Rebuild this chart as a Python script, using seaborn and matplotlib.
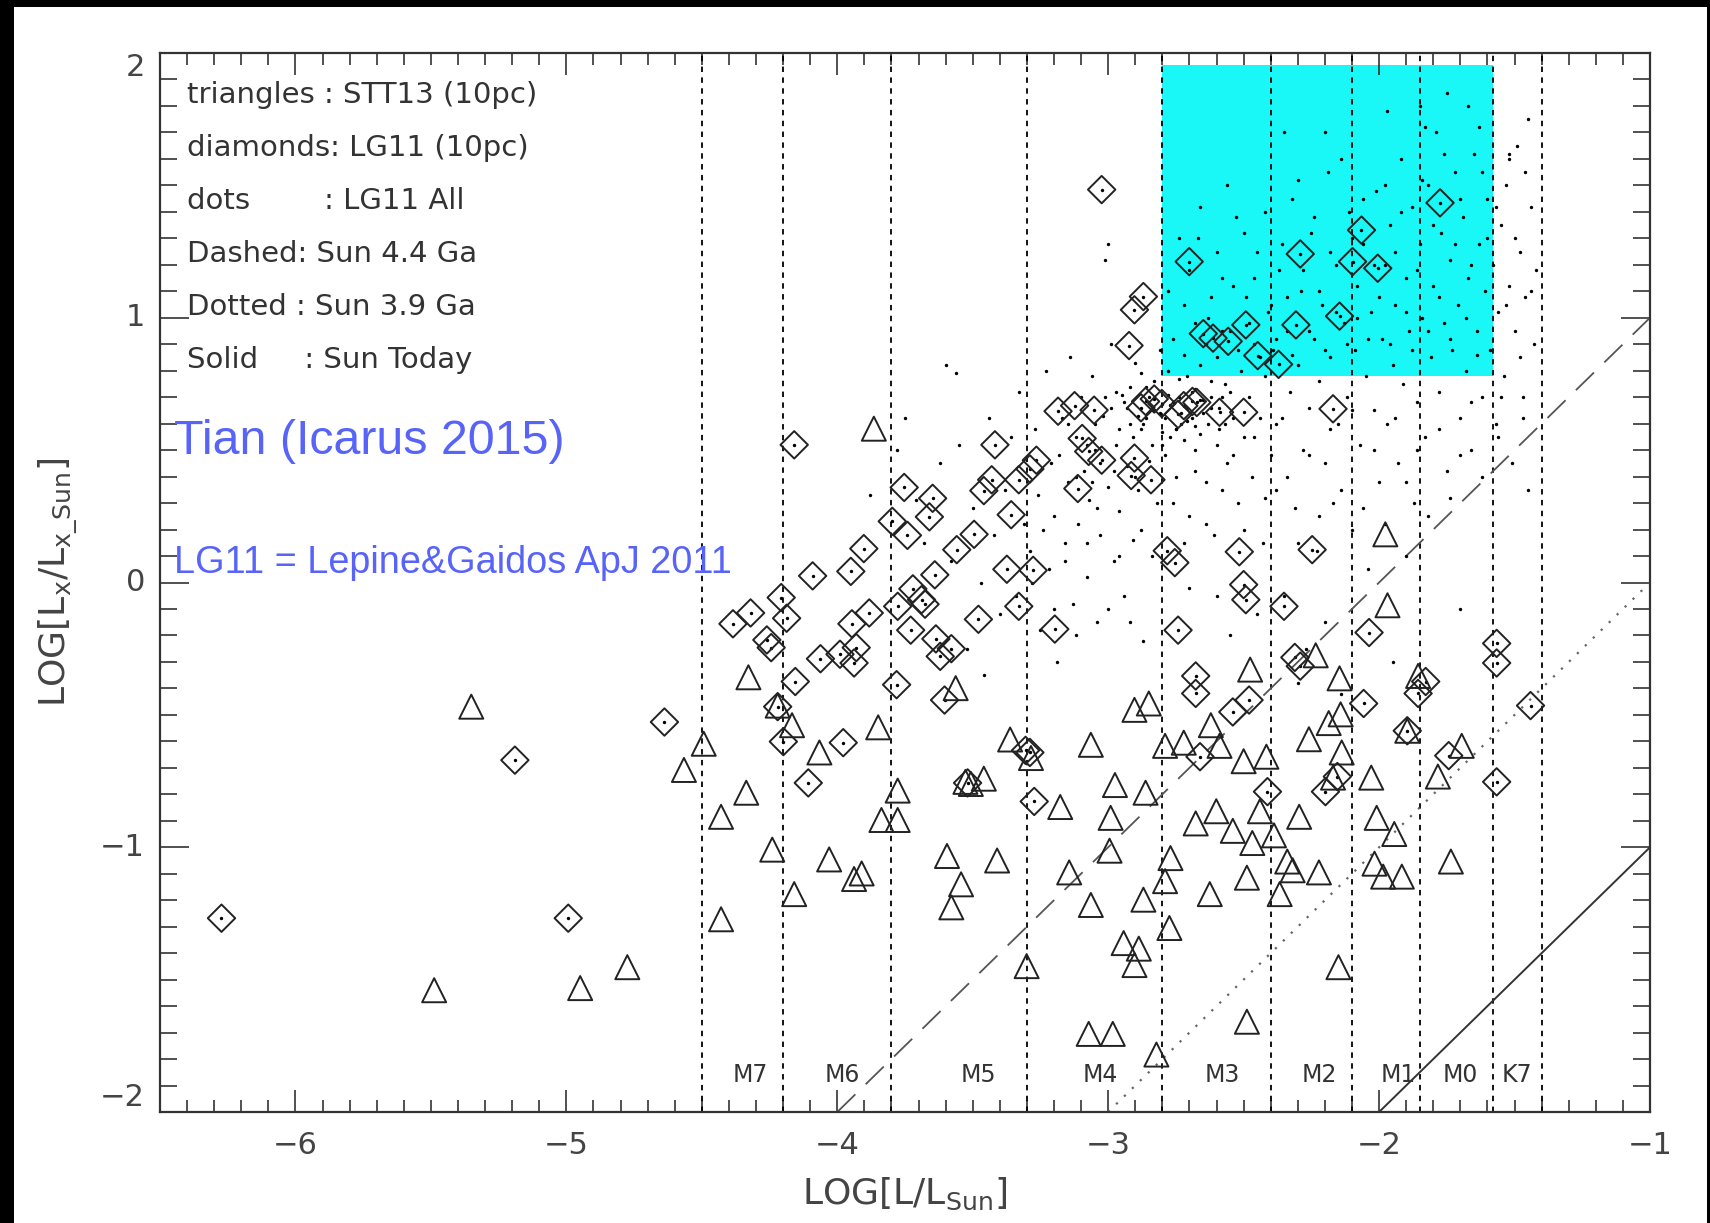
import matplotlib
matplotlib.use("Agg")
import matplotlib.pyplot as plt
import seaborn as sns
import pandas as pd
from matplotlib.patches import Rectangle
from matplotlib.ticker import MultipleLocator

# ---------------- data ----------------
# triangles : STT13 (10pc)
tri_x = [-5.351, -5.488, -4.949, -4.775, -4.493, -4.566, -4.429, -4.429, -4.328, -4.336,
         -4.240, -4.220, -4.167, -4.159, -4.066, -4.030, -3.938, -3.910, -3.865, -3.849,
         -3.837, -3.777, -3.777, -3.595, -3.579, -3.543, -3.563, -3.527, -3.507, -3.459,
         -3.410, -3.362, -3.301, -3.285, -3.177, -3.144, -3.064, -3.064, -3.072, -2.983,
         -2.991, -2.975, -2.995, -2.943, -2.903, -2.887, -2.870, -2.862, -2.903, -2.850,
         -2.822, -2.790, -2.770, -2.774, -2.790, -2.721, -2.677, -2.625, -2.601, -2.589,
         -2.621, -2.540, -2.500, -2.488, -2.488, -2.476, -2.468, -2.440, -2.416, -2.388,
         -2.367, -2.339, -2.319, -2.295, -2.259, -2.234, -2.222, -2.186, -2.170, -2.150,
         -2.146, -2.142, -2.029, -2.017, -2.009, -1.977, -1.969, -1.985, -1.944, -1.916,
         -1.896, -1.856, -1.783, -1.735, -1.695, -2.138]
tri_y = [-0.469, -1.540, -1.532, -1.453, -0.609, -0.708, -0.885, -1.272, -0.358, -0.794,
         -1.009, -0.465, -0.539, -1.177, -0.642, -1.046, -1.120, -1.099, 0.581, -0.547,
         -0.897, -0.897, -0.786, -1.033, -1.227, -1.140, -0.399, -0.753, -0.761, -0.741,
         -1.050, -0.593, -1.449, -0.663, -0.848, -1.095, -0.613, -1.218, -1.705, -1.705,
         -0.889, -0.765, -1.013, -1.362, -1.445, -1.383, -1.198, -0.794, -0.481, -0.457,
         -1.783, -0.617, -1.041, -1.305, -1.128, -0.605, -0.910, -1.177, -0.864, -0.617,
         -0.539, -0.938, -0.675, -1.115, -1.659, -0.329, -0.984, -0.864, -0.658, -0.955,
         -1.177, -1.054, -1.087, -0.885, -0.592, -0.275, -1.095, -0.531, -0.737, -1.453,
         -0.362, -0.498, -0.737, -1.062, -0.889, 0.182, -0.086, -1.111, -0.950, -1.111,
         -0.560, -0.353, -0.733, -1.054, -0.617, -0.642]

# diamonds : LG11 (10pc)
dia_x = [-6.273, -5.190, -4.993, -4.638, -4.385, -4.320, -4.260, -4.244, -4.207, -4.187,
         -4.220, -4.199, -4.159, -4.155, -4.107, -4.091, -4.062, -3.978, -3.950, -3.946,
         -3.938, -3.930, -3.902, -3.882, -3.990, -3.797, -3.781, -3.777, -3.753, -3.741,
         -3.729, -3.721, -3.689, -3.676, -3.660, -3.648, -3.640, -3.636, -3.620, -3.604,
         -3.579, -3.559, -3.519, -3.495, -3.479, -3.459, -3.430, -3.418, -3.374, -3.358,
         -3.330, -3.330, -3.289, -3.277, -3.265, -3.305, -3.289, -3.273, -3.197, -3.185,
         -3.124, -3.112, -3.096, -3.072, -3.052, -3.024, -3.024, -2.923, -2.903, -2.870,
         -2.915, -2.903, -2.879, -2.862, -2.842, -2.830, -2.802, -2.782, -2.754, -2.742,
         -2.742, -2.721, -2.701, -2.689, -2.673, -2.677, -2.677, -2.661, -2.649, -2.613,
         -2.589, -2.557, -2.540, -2.516, -2.500, -2.492, -2.500, -2.492, -2.480, -2.448,
         -2.412, -2.371, -2.351, -2.311, -2.307, -2.291, -2.291, -2.247, -2.198, -2.170,
         -2.146, -2.154, -2.098, -2.065, -2.057, -2.037, -2.005, -1.896, -1.856, -1.828,
         -1.775, -1.743, -1.566, -1.566, -1.566, -1.441]
dia_y = [-1.268, -0.671, -1.268, -0.527, -0.156, -0.115, -0.217, -0.246, -0.057, -0.135,
         -0.469, -0.601, 0.520, -0.374, -0.757, 0.025, -0.288, -0.605, 0.042, -0.156,
         -0.304, -0.246, 0.128, -0.115, -0.271, 0.231, -0.386, -0.090, 0.359, 0.178,
         -0.180, -0.024, -0.065, -0.082, 0.248, 0.318, 0.029, -0.213, -0.279, -0.444,
         -0.250, 0.124, -0.757, 0.182, -0.139, 0.347, 0.388, 0.520, 0.050, 0.256,
         -0.090, 0.388, 0.429, 0.046, 0.462, -0.634, -0.642, -0.827, -0.176, 0.647,
         0.668, 0.355, 0.544, 0.495, 0.651, 1.484, 0.462, 0.895, 1.030, 1.080,
         0.404, 0.470, 0.660, 0.684, 0.388, 0.693, 0.676, 0.120, 0.075, -0.180,
         0.635, 0.668, 1.212, 0.684, 0.680, -0.353, -0.419, -0.658, 0.940, 0.923,
         0.643, 0.911, -0.489, 0.116, -0.008, 0.973, 0.643, -0.065, -0.444, 0.857,
         -0.790, 0.824, -0.090, -0.283, 0.973, 1.241, -0.316, 0.124, -0.790, 0.656,
         1.006, -0.733, 1.212, 1.331, -0.457, -0.189, 1.187, -0.560, -0.419, -0.374,
         1.434, -0.654, -0.230, -0.304, -0.753, -0.465]

# dots : LG11 All (in addition to the 10pc diamonds)
dot_x = [-3.88, -3.75, -3.71, -3.68, -3.62, -3.58, -3.55, -3.50, -3.47, -3.44, -3.42, -3.40,
         -3.38, -3.36, -3.34, -3.33, -3.31, -3.56, -3.60, -3.52, -3.46,
         -3.29, -3.27, -3.26, -3.25, -3.23, -3.22, -3.21, -3.20, -3.19, -3.17, -3.16, -3.15,
         -3.14, -3.13, -3.12, -3.11, -3.10, -3.09, -3.08, -3.07, -3.06, -3.05, -3.04, -3.03,
         -3.02, -3.01, -3.00, -3.00, -2.99, -2.98, -2.97, -2.96, -2.95, -2.94, -2.93, -2.92,
         -2.91, -2.90, -2.89, -2.88, -2.87, -2.86, -2.85, -2.84, -2.83, -2.82, -2.81, -2.80,
         -2.79, -2.78, -2.77, -2.76, -2.75, -2.74, -2.73, -2.72, -2.71, -2.70, -2.69, -2.68,
         -2.67, -2.66, -2.65, -2.64, -2.63, -2.62, -2.61, -2.60, -2.59, -2.58, -2.57, -2.56,
         -2.55, -2.54, -2.53, -2.52, -2.51, -2.50, -2.49, -2.48, -2.47, -2.46, -2.45, -2.44,
         -2.43, -2.42, -2.41, -2.40,
         -2.39, -2.38, -2.37, -2.36, -2.35, -2.34, -2.33, -2.32, -2.31, -2.30, -2.29, -2.28,
         -2.27, -2.26, -2.25, -2.24, -2.23, -2.22, -2.21, -2.20, -2.19, -2.18, -2.17, -2.16,
         -2.15, -2.14, -2.13, -2.12, -2.11, -2.10, -2.09, -2.08, -2.07, -2.06, -2.05, -2.04,
         -2.03, -2.02, -2.01, -2.00,
         -1.99, -1.98, -1.97, -1.96, -1.95, -1.94, -1.93, -1.92, -1.91, -1.90, -1.89, -1.88,
         -1.87, -1.86, -1.85, -1.84, -1.83, -1.82, -1.81, -1.80, -1.79, -1.78, -1.77, -1.76,
         -1.75, -1.74, -1.73, -1.72, -1.71, -1.70, -1.69, -1.68, -1.67, -1.66, -1.65, -1.64,
         -1.63, -1.62, -1.61, -1.60,
         -1.59, -1.58, -1.57, -1.56, -1.55, -1.54, -1.53, -1.52, -1.51, -1.50, -1.49, -1.48,
         -1.47, -1.46, -1.45, -1.44, -1.43, -1.42,
         -2.60, -2.55, -2.45, -2.70, -2.30, -2.20, -1.95, -1.70, -1.90, -3.78, -2.20, -1.85,
         -1.45, -1.52, -2.75, -2.62, -2.86, -2.93, -2.68, -2.58, -2.73, -2.80, -2.66, -2.71]
dot_y = [0.33, 0.62, 0.31, 0.15, 0.45, 0.08, 0.52, 0.28, 0.00, 0.62, 0.18, -0.12,
         0.35, 0.55, -0.05, 0.72, 0.22, 0.79, 0.82, -0.25, -0.35,
         0.12, 0.58, 0.33, -0.18, 0.80, 0.05, 0.45, 0.25, -0.30, 0.62, 0.15, 0.38,
         0.85, -0.08, 0.55, 0.22, 0.70, 0.42, 0.02, 0.31, 0.78, 0.50, -0.15, 0.18,
         0.63, 1.22, 1.28, 0.36, 0.90, 0.08, 0.52, 0.27, 0.71, -0.05, 0.44, 0.60,
         0.16, 0.83, 0.35, 0.58, -0.22, 0.74, 0.46, 0.10, 0.65, 0.30, 0.88, 0.52,
         0.62, 0.71, 0.55, 0.68, 0.40, 0.77, 0.60, 1.05, 0.66, 0.25, 0.72, 0.50,
         1.30, 0.82, 0.64, 0.38, 1.00, 0.70, 0.18, 0.85, 0.58, 1.15, 0.75, 0.45,
         0.95, 0.62, 1.38, 0.30, 0.80, 0.55, 1.08, 0.70, 0.40, 0.90, 1.25, 0.62,
         0.15, 0.78, 1.02, 0.48,
         0.88, 0.35, 1.18, 0.62, -0.05, 0.95, 0.72, 1.45, 0.28, 0.82, 1.10, 0.50,
         -0.25, 0.66, 1.32, 0.92, 0.12, 0.76, 1.05, 0.45, 1.55, 0.85, 0.30, 1.20,
         0.60, -0.42, 0.98, 0.70, 1.40, 0.20, 0.88, 1.12, 0.52, 1.28, 0.78, 0.05,
         1.02, 0.65, 1.48, 0.38,
         0.92, 1.20, 0.60, 1.35, 0.82, 1.05, 0.45, 1.60, 0.75, 1.15, 0.95, 1.42,
         0.30, 0.68, 1.28, 1.00, 0.55, 1.50, 0.85, 1.12, 1.70, 0.72, 1.32, 0.98,
         0.42, 1.22, 0.88, 1.55, 1.05, 0.62, 1.38, 0.80, 1.15, 0.50, 1.62, 0.95,
         1.28, 0.70, 1.10, 1.45,
         0.88, 1.20, 0.60, 1.02, 1.35, 0.78, 1.50, 1.12, 0.45, 0.95, 1.65, 1.25,
         0.70, 1.08, 0.35, 1.42, 0.90, 1.18,
         -0.05, -0.20, -0.12, -0.02, -0.38, -0.15, -0.30, -0.10, 0.10, 0.50, 1.70, 1.80,
         1.75, 1.60, 0.58, 0.66, 0.62, 0.66, 0.59, 0.70, 0.64, 0.57, 0.69, 0.61]

# more LG11 All dots, as (x, y) pairs
dot_more_xy = [
    (-2.99, 0.66), (-2.97, 0.72), (-2.96, 0.58), (-2.94, 0.68), (-2.92, 0.74), (-2.91, 0.55),
    (-2.89, 0.63), (-2.88, 0.79), (-2.87, 0.60), (-2.85, 0.70), (-2.84, 0.52), (-2.83, 0.76),
    (-2.81, 0.64), (-2.79, 0.48), (-2.78, 0.80), (-2.77, 0.67), (-2.75, 0.58), (-2.74, 0.70),
    (-2.72, 0.54), (-2.71, 0.78), (-2.69, 0.62), (-2.68, 0.73), (-2.66, 0.56), (-2.65, 0.69),
    (-2.63, 0.60), (-2.62, 0.76), (-2.60, 0.52), (-2.59, 0.66), (-2.57, 0.60), (-2.55, 0.72),
    (-3.05, 0.60), (-3.03, 0.45), (-3.01, 0.70), (-3.08, 0.52), (-3.12, 0.40), (-3.15, 0.60),
    (-3.18, 0.48), (-3.06, 0.38), (-2.98, 0.42), (-2.90, 0.40),
    (-2.78, 1.10), (-2.76, 0.92), (-2.74, 1.30), (-2.72, 0.86), (-2.70, 1.18), (-2.68, 0.98),
    (-2.66, 1.42), (-2.64, 0.90), (-2.62, 1.08), (-2.60, 1.25), (-2.58, 0.95), (-2.56, 1.50),
    (-2.54, 1.12), (-2.52, 0.88), (-2.50, 1.32), (-2.48, 0.98), (-2.46, 1.15), (-2.44, 0.85),
    (-2.42, 1.40), (-2.40, 1.05), (-2.38, 0.92), (-2.36, 1.28), (-2.34, 1.08), (-2.32, 0.86),
    (-2.30, 1.52), (-2.28, 1.18), (-2.26, 0.95), (-2.24, 1.38), (-2.22, 1.10), (-2.20, 0.88),
    (-2.18, 1.25), (-2.16, 1.02), (-2.14, 1.60), (-2.12, 0.90), (-2.10, 1.30), (-2.08, 1.00),
    (-2.06, 1.45), (-2.04, 0.92), (-2.02, 1.20), (-2.00, 1.08), (-1.98, 1.50), (-1.96, 0.90),
    (-1.94, 1.25), (-1.92, 1.40), (-1.90, 1.02), (-1.88, 0.88), (-1.86, 1.18), (-1.84, 1.52),
    (-1.82, 0.95), (-1.80, 1.35), (-1.78, 1.08), (-1.76, 1.62), (-1.74, 0.92), (-1.72, 1.28),
    (-1.70, 1.45), (-1.68, 1.00), (-1.66, 1.20), (-1.64, 0.86), (-1.62, 1.55), (-1.60, 1.30),
    (-1.97, 1.78), (-1.83, 1.72), (-1.67, 1.80), (-2.35, 1.70), (-1.75, 1.85), (-1.63, 1.72),
    (-1.57, 1.42), (-1.55, 0.70), (-1.53, 1.05), (-1.50, 1.30), (-1.48, 0.85), (-1.46, 1.55),
    (-1.44, 1.10), (-1.56, 0.55), (-1.52, 1.62), (-1.47, 0.62),
    (-2.76, 0.30), (-2.72, 0.15), (-2.68, 0.42), (-2.64, 0.22), (-2.58, 0.35), (-2.54, 0.48),
    (-2.50, 0.20), (-2.46, 0.55), (-2.42, 0.32), (-2.38, 0.60), (-2.34, 0.40), (-2.30, 0.15),
    (-2.26, 0.48), (-2.22, 0.25), (-2.18, 0.58), (-2.14, 0.35), (-2.10, 0.65), (-2.06, 0.28),
    (-2.02, 0.50), (-1.98, 0.22), (-1.94, 0.62), (-1.90, 0.38), (-1.86, 0.50), (-1.82, 0.25),
    (-1.78, 0.58), (-1.74, 0.32), (-1.70, 0.48), (-1.66, 0.68), (-1.62, 0.40),
    (-3.28, 0.00), (-3.24, 0.20), (-3.20, -0.10), (-3.16, 0.08), (-3.12, -0.20), (-3.08, 0.15),
    (-3.04, 0.28), (-3.00, -0.10), (-2.96, 0.10), (-2.92, -0.15), (-2.88, 0.20),
]

# spectral-type boundaries and labels
spt_bounds = [-4.5, -4.2, -3.8, -3.3, -2.8, -2.4, -2.1, -1.85, -1.58, -1.4]
spt_names = ["M7", "M6", "M5", "M4", "M3", "M2", "M1", "M0", "K7"]
spt_xpos = [-4.32, -3.98, -3.48, -3.03, -2.58, -2.22, -1.93, -1.70, -1.49]
spt_ypos = -1.86

# solar reference lines
dashed_x, dashed_y = [-4.0, -1.0], [-2.0, 1.0]      # Sun 4.4 Ga
dotted_x, dotted_y = [-3.0, -1.0], [-2.0, 0.0]      # Sun 3.9 Ga
solid_x, solid_y = [-2.0, -1.0], [-2.0, -1.0]       # Sun today

# highlighted region
box_x = [-2.8, -1.58]
box_y = [0.78, 1.955]

legend_lines = ["triangles : STT13 (10pc)", "diamonds: LG11 (10pc)", "dots        : LG11 All",
                "Dashed: Sun 4.4 Ga", "Dotted : Sun 3.9 Ga", "Solid     : Sun Today"]
legend_y = [1.84, 1.64, 1.44, 1.24, 1.04, 0.84]

xtick_vals = [-6, -5, -4, -3, -2, -1]
ytick_vals = [-2, -1, 0, 1, 2]
ytick_text = ["\u22122", "\u22121", "0", "1", "2"]

# ---------------- plot ----------------
sns.set_style("ticks")
plt.rcParams["font.family"] = ["DejaVu Sans"]

fig = plt.figure(figsize=(17.1, 12.23), dpi=100)
fig.patch.set_facecolor("black")
fig.patches.append(Rectangle((14 / 1710, 0), (1707 - 14) / 1710, (1223 - 7) / 1223,
                             transform=fig.transFigure, facecolor="white",
                             edgecolor="none", zorder=-10))
ax = fig.add_axes([160 / 1710, (1223 - 1112) / 1223, 1490 / 1710, 1059 / 1223])
ax.set_facecolor("white")

ax.add_patch(Rectangle((box_x[0], box_y[0]), box_x[1] - box_x[0], box_y[1] - box_y[0],
                       facecolor="#19f7f7", edgecolor="none", zorder=0))

for b in spt_bounds:
    ax.axvline(b, color="black", lw=1.3, linestyle=(0, (3, 3)), zorder=1)

df_lines = pd.DataFrame({"x": dashed_x, "y": dashed_y})
sns.lineplot(data=df_lines, x="x", y="y", ax=ax, color="#555555", lw=1.3,
             linestyle=(0, (14, 8)), zorder=2)
df_lines = pd.DataFrame({"x": dotted_x, "y": dotted_y})
sns.lineplot(data=df_lines, x="x", y="y", ax=ax, color="#666666", lw=1.6,
             linestyle=(0, (1, 4)), zorder=2)
df_lines = pd.DataFrame({"x": solid_x, "y": solid_y})
sns.lineplot(data=df_lines, x="x", y="y", ax=ax, color="#333333", lw=1.4, zorder=2)

more_x = [p[0] for p in dot_more_xy]
more_y = [p[1] for p in dot_more_xy]
sns.scatterplot(x=dot_x + more_x + dia_x, y=dot_y + more_y + dia_y, ax=ax, s=6,
                color="black", linewidth=0, zorder=3)
sns.scatterplot(x=dia_x, y=dia_y, ax=ax, marker="D", s=195, facecolors="none",
                edgecolors="#222222", linewidth=1.4, zorder=4)
sns.scatterplot(x=tri_x, y=tri_y, ax=ax, marker="^", s=300, facecolors="none",
                edgecolors="#222222", linewidth=1.4, zorder=4)

for name, xp in zip(spt_names, spt_xpos):
    ax.text(xp, spt_ypos, name, ha="center", va="center", fontsize=17, color="#333333",
            zorder=5)

for line, yy in zip(legend_lines, legend_y):
    ax.text(-6.4, yy, line, ha="left", va="center", fontsize=21, color="#333333", zorder=5)

ax.text(-6.448, 0.531, "Tian (Icarus 2015)", ha="left", va="center", fontsize=34.8,
        color="#5863f8", family=["Liberation Sans", "DejaVu Sans"], zorder=6)
ax.text(-6.448, 0.074, "LG11 = Lepine&Gaidos ApJ 2011", ha="left", va="center",
        fontsize=27.3, color="#5863f8", family=["Liberation Sans", "DejaVu Sans"], zorder=6)

ax.set_xlim(-6.5, -1.0)
ax.set_ylim(-2.0, 2.0)
ax.set_xticks(xtick_vals)
ax.xaxis.set_minor_locator(MultipleLocator(0.1))
ax.yaxis.set_minor_locator(MultipleLocator(0.1))
ax.set_yticks(ytick_vals)
ax.set_yticklabels([])
for v, t in zip(ytick_vals, ytick_text):
    va = "center"
    if v == ytick_vals[-1]:
        va = "top"
    elif v == ytick_vals[0]:
        va = "bottom"
    ax.text(-0.010, v, t, transform=ax.get_yaxis_transform(), ha="right", va=va,
            fontsize=22, color="#444444")

ax.tick_params(axis="x", which="major", direction="in", length=16, width=1.2,
               top=True, bottom=True, labelsize=22, pad=14, labelcolor="#444444",
               color="#333333")
ax.tick_params(axis="x", which="minor", direction="in", length=8.5, width=1.2,
               top=True, bottom=True, color="#333333")
ax.tick_params(axis="y", which="major", direction="in", length=21, width=1.2,
               left=True, right=True, color="#333333")
ax.tick_params(axis="y", which="minor", direction="in", length=12, width=1.2,
               left=True, right=True, color="#333333")
for sp in ax.spines.values():
    sp.set_linewidth(1.6)
    sp.set_color("#333333")
    sp.set_zorder(7)

ax.set_xlabel("LOG[L/L$_\\mathrm{Sun}$]", fontsize=26, color="#444444")
ax.set_ylabel("LOG[L$_\\mathrm{x}$/L$_\\mathrm{x\\_Sun}$]", fontsize=26, color="#444444")
ax.xaxis.set_label_coords(0.5, -0.060)
ax.yaxis.set_label_coords(-0.054, 0.5)

fig.savefig("out.png", dpi=100, facecolor=fig.get_facecolor())
